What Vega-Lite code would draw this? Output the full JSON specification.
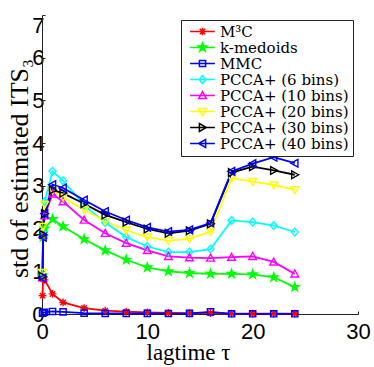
{
  "$schema": "https://vega.github.io/schema/vega-lite/v6.json",
  "autosize": "none",
  "padding": {"left": 42, "top": 15, "right": 16, "bottom": 53},
  "width": 316,
  "height": 299,
  "background": "white",
  "config": {
    "view": {"stroke": null},
    "axis": {"titleFont": "Liberation Serif", "labelFont": "Liberation Sans", "titleFontWeight": "normal"},
    "legend": {"labelFont": "DejaVu Serif", "labelFontSize": 15, "labelColor": "black", "labelLimit": 300,
      "fillColor": "white", "strokeColor": "#222", "padding": 4, "rowPadding": 0,
      "symbolSize": 60, "symbolOffset": 10, "labelOffset": 10, "symbolStrokeWidth": 1.5,
      "orient": "top-right", "offset": 5}
  },
  "data": {"values": [
    {"m":"M³C","x":0.05,"y":0.43},{"m":"M³C","x":0.1,"y":0.82},{"m":"M³C","x":0.25,"y":0.8},{"m":"M³C","x":1,"y":0.47},{"m":"M³C","x":2,"y":0.27},{"m":"M³C","x":4,"y":0.14},{"m":"M³C","x":6,"y":0.08},{"m":"M³C","x":8,"y":0.055},{"m":"M³C","x":10,"y":0.04},{"m":"M³C","x":12,"y":0.025},{"m":"M³C","x":14,"y":0.02},{"m":"M³C","x":16,"y":0.02},{"m":"M³C","x":18,"y":0.01},{"m":"M³C","x":20,"y":0.01},{"m":"M³C","x":22,"y":0.01},{"m":"M³C","x":24,"y":0.01},
    {"m":"k-medoids","x":0.05,"y":0.9},{"m":"k-medoids","x":0.1,"y":1.8},{"m":"k-medoids","x":0.25,"y":2.0},{"m":"k-medoids","x":1,"y":2.22},{"m":"k-medoids","x":2,"y":2.05},{"m":"k-medoids","x":4,"y":1.75},{"m":"k-medoids","x":6,"y":1.49},{"m":"k-medoids","x":8,"y":1.27},{"m":"k-medoids","x":10,"y":1.09},{"m":"k-medoids","x":12,"y":1.0},{"m":"k-medoids","x":14,"y":0.96},{"m":"k-medoids","x":16,"y":0.94},{"m":"k-medoids","x":18,"y":0.94},{"m":"k-medoids","x":20,"y":0.93},{"m":"k-medoids","x":22,"y":0.86},{"m":"k-medoids","x":24,"y":0.63},
    {"m":"MMC","x":0.05,"y":0.02},{"m":"MMC","x":0.1,"y":0.03},{"m":"MMC","x":0.25,"y":0.04},{"m":"MMC","x":1,"y":0.06},{"m":"MMC","x":2,"y":0.05},{"m":"MMC","x":4,"y":0.02},{"m":"MMC","x":6,"y":0.015},{"m":"MMC","x":8,"y":0.015},{"m":"MMC","x":10,"y":0.015},{"m":"MMC","x":12,"y":0.01},{"m":"MMC","x":14,"y":0.015},{"m":"MMC","x":16,"y":0.05},{"m":"MMC","x":18,"y":0.005},{"m":"MMC","x":20,"y":0.005},{"m":"MMC","x":22,"y":0.005},{"m":"MMC","x":24,"y":0.005},
    {"m":"PCCA+ (6 bins)","x":0.05,"y":0.9},{"m":"PCCA+ (6 bins)","x":0.1,"y":1.9},{"m":"PCCA+ (6 bins)","x":0.25,"y":2.63},{"m":"PCCA+ (6 bins)","x":1,"y":3.34},{"m":"PCCA+ (6 bins)","x":2,"y":3.12},{"m":"PCCA+ (6 bins)","x":4,"y":2.55},{"m":"PCCA+ (6 bins)","x":6,"y":2.14},{"m":"PCCA+ (6 bins)","x":8,"y":1.8},{"m":"PCCA+ (6 bins)","x":10,"y":1.58},{"m":"PCCA+ (6 bins)","x":12,"y":1.45},{"m":"PCCA+ (6 bins)","x":14,"y":1.45},{"m":"PCCA+ (6 bins)","x":16,"y":1.52},{"m":"PCCA+ (6 bins)","x":18,"y":2.19},{"m":"PCCA+ (6 bins)","x":20,"y":2.15},{"m":"PCCA+ (6 bins)","x":22,"y":2.07},{"m":"PCCA+ (6 bins)","x":24,"y":1.92},
    {"m":"PCCA+ (10 bins)","x":0.05,"y":0.85},{"m":"PCCA+ (10 bins)","x":0.1,"y":1.85},{"m":"PCCA+ (10 bins)","x":0.25,"y":2.3},{"m":"PCCA+ (10 bins)","x":1,"y":2.81},{"m":"PCCA+ (10 bins)","x":2,"y":2.63},{"m":"PCCA+ (10 bins)","x":4,"y":2.2},{"m":"PCCA+ (10 bins)","x":6,"y":1.89},{"m":"PCCA+ (10 bins)","x":8,"y":1.66},{"m":"PCCA+ (10 bins)","x":10,"y":1.49},{"m":"PCCA+ (10 bins)","x":12,"y":1.35},{"m":"PCCA+ (10 bins)","x":14,"y":1.32},{"m":"PCCA+ (10 bins)","x":16,"y":1.31},{"m":"PCCA+ (10 bins)","x":18,"y":1.33},{"m":"PCCA+ (10 bins)","x":20,"y":1.35},{"m":"PCCA+ (10 bins)","x":22,"y":1.22},{"m":"PCCA+ (10 bins)","x":24,"y":0.94},
    {"m":"PCCA+ (20 bins)","x":0.05,"y":0.97},{"m":"PCCA+ (20 bins)","x":0.1,"y":2.05},{"m":"PCCA+ (20 bins)","x":0.25,"y":2.56},{"m":"PCCA+ (20 bins)","x":1,"y":2.9},{"m":"PCCA+ (20 bins)","x":2,"y":2.73},{"m":"PCCA+ (20 bins)","x":4,"y":2.44},{"m":"PCCA+ (20 bins)","x":6,"y":2.17},{"m":"PCCA+ (20 bins)","x":8,"y":1.96},{"m":"PCCA+ (20 bins)","x":10,"y":1.8},{"m":"PCCA+ (20 bins)","x":12,"y":1.72},{"m":"PCCA+ (20 bins)","x":14,"y":1.76},{"m":"PCCA+ (20 bins)","x":16,"y":1.93},{"m":"PCCA+ (20 bins)","x":18,"y":3.18},{"m":"PCCA+ (20 bins)","x":20,"y":3.1},{"m":"PCCA+ (20 bins)","x":22,"y":3.02},{"m":"PCCA+ (20 bins)","x":24,"y":2.91},
    {"m":"PCCA+ (30 bins)","x":0.05,"y":0.88},{"m":"PCCA+ (30 bins)","x":0.1,"y":1.86},{"m":"PCCA+ (30 bins)","x":0.25,"y":2.35},{"m":"PCCA+ (30 bins)","x":1,"y":2.9},{"m":"PCCA+ (30 bins)","x":2,"y":2.83},{"m":"PCCA+ (30 bins)","x":4,"y":2.58},{"m":"PCCA+ (30 bins)","x":6,"y":2.32},{"m":"PCCA+ (30 bins)","x":8,"y":2.15},{"m":"PCCA+ (30 bins)","x":10,"y":1.99},{"m":"PCCA+ (30 bins)","x":12,"y":1.89},{"m":"PCCA+ (30 bins)","x":14,"y":1.95},{"m":"PCCA+ (30 bins)","x":16,"y":2.11},{"m":"PCCA+ (30 bins)","x":18,"y":3.31},{"m":"PCCA+ (30 bins)","x":20,"y":3.45},{"m":"PCCA+ (30 bins)","x":22,"y":3.36},{"m":"PCCA+ (30 bins)","x":24,"y":3.26},
    {"m":"PCCA+ (40 bins)","x":0.05,"y":0.84},{"m":"PCCA+ (40 bins)","x":0.1,"y":1.8},{"m":"PCCA+ (40 bins)","x":0.25,"y":2.35},{"m":"PCCA+ (40 bins)","x":1,"y":3.03},{"m":"PCCA+ (40 bins)","x":2,"y":2.95},{"m":"PCCA+ (40 bins)","x":4,"y":2.67},{"m":"PCCA+ (40 bins)","x":6,"y":2.4},{"m":"PCCA+ (40 bins)","x":8,"y":2.2},{"m":"PCCA+ (40 bins)","x":10,"y":2.03},{"m":"PCCA+ (40 bins)","x":12,"y":1.93},{"m":"PCCA+ (40 bins)","x":14,"y":1.97},{"m":"PCCA+ (40 bins)","x":16,"y":2.13},{"m":"PCCA+ (40 bins)","x":18,"y":3.34},{"m":"PCCA+ (40 bins)","x":20,"y":3.52},{"m":"PCCA+ (40 bins)","x":22,"y":3.67},{"m":"PCCA+ (40 bins)","x":24,"y":3.53}
  ]},
  "encoding": {
    "x": {"field": "x", "type": "quantitative",
      "scale": {"domain": [0, 30], "nice": false, "zero": false},
      "axis": {"title": "lagtime τ", "values": [0, 10, 20, 30], "grid": false,
        "domainColor": "#222", "domainWidth": 1, "tickColor": "#222", "tickSize": -3,
        "labelFont": "Liberation Sans", "labelFontSize": 22, "labelColor": "black", "labelPadding": 10,
        "labelFlush": false,
        "titleFont": "Liberation Serif", "titleFontSize": 23, "titleFontWeight": "normal", "titleColor": "black",
        "titleX": 146, "titleY": 45, "titleBaseline": "alphabetic", "titleAlign": "center"}},
    "y": {"field": "y", "type": "quantitative",
      "scale": {"domain": [0, 7], "nice": false},
      "axis": {"title": "std of estimated ITS₃", "values": [0, 1, 2, 3, 4, 5, 6, 7], "grid": false,
        "domainColor": "#222", "domainWidth": 1, "tickColor": "#222", "tickSize": -3,
        "labelFont": "Liberation Sans", "labelFontSize": 22, "labelColor": "black", "labelPadding": 1,
        "labelFlush": false,
        "labelBaseline": {"condition": {"test": "datum.value == 7", "value": "top"}, "value": "middle"},
        "titleFont": "Liberation Serif", "titleFontSize": 26, "titleFontWeight": "normal", "titleColor": "black",
        "titleX": -10, "titleY": 153, "titleBaseline": "bottom", "titleAlign": "center", "titleAngle": 270}}
  },
  "resolve": {"scale": {"color": "independent", "shape": "independent", "fill": "independent"}},
  "layer": [
    {
      "mark": {"type": "line", "strokeWidth": 1.8},
      "encoding": {
        "color": {"field": "m", "type": "nominal", "legend": null,
          "scale": {"domain": ["M³C", "k-medoids", "MMC", "PCCA+ (6 bins)", "PCCA+ (10 bins)", "PCCA+ (20 bins)", "PCCA+ (30 bins)", "PCCA+ (40 bins)"],
            "range": ["#ff0000", "#00ff00", "#0000ff", "#00ffff", "#ff00ff", "#ffff00", "#000000", "#0000ff"]}},
        "detail": {"field": "m"}
      }
    },
    {
      "mark": {"type": "point", "filled": false, "strokeWidth": 1.4, "size": 60, "opacity": 1},
      "encoding": {
        "color": {"field": "m", "type": "nominal", "legend": null,
          "scale": {"domain": ["M³C", "k-medoids", "MMC", "PCCA+ (6 bins)", "PCCA+ (10 bins)", "PCCA+ (20 bins)", "PCCA+ (30 bins)", "PCCA+ (40 bins)"],
            "range": ["#ff0000", "#00ff00", "#0000ff", "#00ffff", "#ff00ff", "#ffff00", "#000000", "#0000ff"]}},
        "shape": {"field": "m", "type": "nominal", "legend": null,
          "scale": {"domain": ["M³C", "k-medoids", "MMC", "PCCA+ (6 bins)", "PCCA+ (10 bins)", "PCCA+ (20 bins)", "PCCA+ (30 bins)", "PCCA+ (40 bins)"],
            "range": [
              "M-1,0L1,0M0,-1L0,1M-0.7,-0.7L0.7,0.7M-0.7,0.7L0.7,-0.7",
              "M0,-1.15L0.26,-0.36L1.09,-0.36L0.42,0.14L0.68,0.93L0,0.44L-0.68,0.93L-0.42,0.14L-1.09,-0.36L-0.26,-0.36Z",
              "M-0.8,-0.8L0.8,-0.8L0.8,0.8L-0.8,0.8Z",
              "M0,-1L0.9,0L0,1L-0.9,0Z",
              "M0,-1L1,0.8L-1,0.8Z",
              "M0,1L1,-0.8L-1,-0.8Z",
              "M1,0L-0.8,-1L-0.8,1Z",
              "M-1,0L0.8,-1L0.8,1Z"
            ]}},
        "fill": {"condition": {"test": "datum.m === 'k-medoids'", "value": "#00ff00"}, "value": "transparent"}
      }
    },
    {
      "transform": [{"filter": "datum.x < -100"}],
      "mark": {"type": "point", "filled": false, "strokeWidth": 1.5, "size": 60, "opacity": 1},
      "encoding": {
        "color": {"field": "m", "type": "nominal",
          "scale": {"domain": ["M³C", "k-medoids", "MMC", "PCCA+ (6 bins)", "PCCA+ (10 bins)", "PCCA+ (20 bins)", "PCCA+ (30 bins)", "PCCA+ (40 bins)"],
            "range": ["#ff0000", "#00ff00", "#0000ff", "#00ffff", "#ff00ff", "#ffff00", "#000000", "#0000ff"]},
          "legend": {"title": null}},
        "fill": {"field": "m", "type": "nominal",
          "scale": {"domain": ["M³C", "k-medoids", "MMC", "PCCA+ (6 bins)", "PCCA+ (10 bins)", "PCCA+ (20 bins)", "PCCA+ (30 bins)", "PCCA+ (40 bins)"],
            "range": ["transparent", "#00ff00", "transparent", "transparent", "transparent", "transparent", "transparent", "transparent"]},
          "legend": {"title": null}},
        "shape": {"field": "m", "type": "nominal",
          "scale": {"domain": ["M³C", "k-medoids", "MMC", "PCCA+ (6 bins)", "PCCA+ (10 bins)", "PCCA+ (20 bins)", "PCCA+ (30 bins)", "PCCA+ (40 bins)"],
            "range": [
              "M-3.2,0L3.2,0M-1,0L1,0M0,-1L0,1M-0.7,-0.7L0.7,0.7M-0.7,0.7L0.7,-0.7",
              "M-3.2,0L3.2,0M0,-1.15L0.26,-0.36L1.09,-0.36L0.42,0.14L0.68,0.93L0,0.44L-0.68,0.93L-0.42,0.14L-1.09,-0.36L-0.26,-0.36Z",
              "M-3.2,0L3.2,0M-0.8,-0.8L0.8,-0.8L0.8,0.8L-0.8,0.8Z",
              "M-3.2,0L3.2,0M0,-1L0.9,0L0,1L-0.9,0Z",
              "M-3.2,0L3.2,0M0,-1L1,0.8L-1,0.8Z",
              "M-3.2,0L3.2,0M0,1L1,-0.8L-1,-0.8Z",
              "M-3.2,0L3.2,0M1,0L-0.8,-1L-0.8,1Z",
              "M-3.2,0L3.2,0M-1,0L0.8,-1L0.8,1Z"
            ]},
          "legend": {"title": null}}
      }
    }
  ]
}
